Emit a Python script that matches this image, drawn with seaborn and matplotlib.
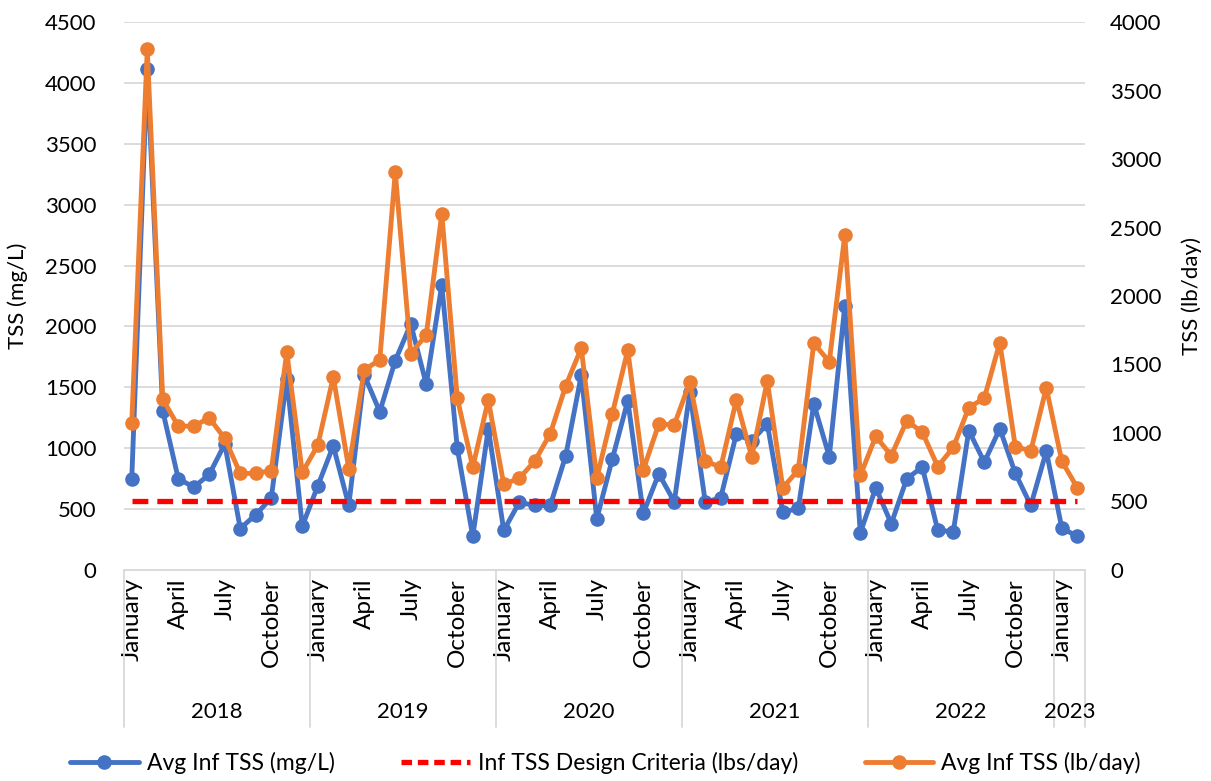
import numpy as np
import pandas as pd
import seaborn as sns
import matplotlib.pyplot as plt
import matplotlib.transforms as mtransforms
from matplotlib.lines import Line2D

sns.set_theme(style="white")
plt.rcParams['font.family'] = ['Lato', 'DejaVu Sans']

# Monthly record: January 2018 through February 2023
years = [2018] * 12 + [2019] * 12 + [2020] * 12 + [2021] * 12 + [2022] * 12 + [2023] * 2
month_names = ['January', 'February', 'March', 'April', 'May', 'June', 'July',
               'August', 'September', 'October', 'November', 'December']
months = (month_names * 6)[:62]

# Average influent TSS concentration (mg/L)
tss_mgl = [750, 4115, 1305, 750, 680, 785, 1035, 340, 455, 590,
           1570, 360, 690, 1020, 530, 1600, 1300, 1720, 2020, 1525,
           2340, 1000, 275, 1160, 325, 555, 530, 530, 940, 1600,
           420, 910, 1390, 465, 790, 560, 1460, 555, 595, 1115,
           1060, 1200, 475, 505, 1365, 930, 2170, 305, 675, 380,
           750, 845, 325, 315, 1145, 885, 1160, 795, 530, 975,
           345, 275]

# Average influent TSS load (lb/day)
tss_lbd = [1075, 3800, 1245, 1050, 1050, 1110, 960, 705, 705, 725,
           1590, 712, 910, 1410, 740, 1460, 1535, 2905, 1580, 1715,
           2600, 1255, 750, 1240, 625, 670, 795, 995, 1345, 1620,
           670, 1140, 1605, 730, 1065, 1060, 1370, 795, 750, 1240,
           825, 1380, 600, 730, 1655, 1520, 2445, 690, 975, 835,
           1090, 1005, 755, 895, 1185, 1255, 1660, 900, 870, 1330,
           795, 600]

# Influent TSS design criteria (lbs/day)
design_lbd = 500

df = pd.DataFrame({
    'idx': np.arange(len(months)),
    'year': years,
    'month': months,
    'mgl': tss_mgl,
    'lbd': tss_lbd,
    'design': [design_lbd] * len(months),
})

BLUE = '#4472C4'
ORANGE = '#ED7D31'
RED = '#FF0000'
GRID = '#D9D9D9'
TXT = '#000000'
FS = 16
LW = 3.5
MS = 10.5

fig = plt.figure(figsize=(12.11, 7.81), dpi=100)
ax = fig.add_axes([0.1024, 0.2702, 0.7936, 0.7016])
ax2 = ax.twinx()

sns.lineplot(data=df, x='idx', y='mgl', ax=ax, color=BLUE, linewidth=LW,
             marker='o', markersize=MS, markeredgewidth=0, zorder=3)
sns.lineplot(data=df, x='idx', y='design', ax=ax2, color=RED, linewidth=3.8,
             zorder=3).lines[0].set_dashes([3.0, 1.7])
sns.lineplot(data=df, x='idx', y='lbd', ax=ax2, color=ORANGE, linewidth=LW,
             marker='o', markersize=MS, markeredgewidth=0, zorder=4)

ax.set_xlim(-0.5, len(months) - 0.5)
ax.set_ylim(0, 4500)
ax.set_yticks(np.arange(0, 4501, 500))
ax2.set_ylim(0, 4000)
ax2.set_yticks(np.arange(0, 4001, 500))

ax.yaxis.grid(True, color=GRID, linewidth=1.3)
ax.set_axisbelow(True)
for a in (ax, ax2):
    for s in a.spines.values():
        s.set_visible(False)
ax.spines['bottom'].set_visible(True)
ax.spines['bottom'].set_color(GRID)
ax.spines['bottom'].set_linewidth(1.3)

ax.tick_params(axis='y', length=0, pad=20, labelsize=FS, labelcolor=TXT)
ax2.tick_params(axis='y', length=0, pad=18, labelsize=FS, labelcolor=TXT)

ax.set_ylabel('TSS (mg/L)', fontsize=FS, color=TXT, labelpad=12)
ax2.set_ylabel('TSS (lb/day)', fontsize=FS, color=TXT, rotation=90, labelpad=14)

# Quarterly month labels
qpos = [i for i, m in enumerate(months) if m in ('January', 'April', 'July', 'October')]
ax.set_xticks(qpos)
ax.set_xticklabels([months[i] for i in qpos], rotation=90, fontsize=17.5, color=TXT)
ax.tick_params(axis='x', length=0, pad=6)
ax.set_xlabel('')
ax2.set_xlabel('')

# Year groups beneath the month labels
trans = mtransforms.blended_transform_factory(ax.transData, ax.transAxes)
uniq_years = sorted(set(years))
bounds = []
for y in uniq_years:
    ids = [i for i, yy in enumerate(years) if yy == y]
    bounds.append((ids[0] - 0.5, ids[-1] + 0.5))
    ax.text((ids[0] + ids[-1]) / 2, -0.259, str(y), transform=trans,
            ha='center', va='center', fontsize=FS, color=TXT)
edges = sorted(set([b[0] for b in bounds] + [bounds[-1][1]]))
for e in edges:
    ax.add_line(Line2D([e, e], [0, -0.2865], transform=trans, color=GRID,
                       linewidth=1.3, clip_on=False))

handles = [
    Line2D([], [], color=BLUE, linewidth=LW, marker='o', markersize=MS, markeredgewidth=0),
    Line2D([], [], color=RED, linewidth=3.8, dashes=[2.0, 1.1]),
    Line2D([], [], color=ORANGE, linewidth=LW, marker='o', markersize=MS, markeredgewidth=0),
]
labels = ['Avg Inf TSS (mg/L)', 'Inf TSS Design Criteria (lbs/day)', 'Avg Inf TSS (lb/day)']
fig.legend(handles, labels, loc='lower center', bbox_to_anchor=(0.5, -0.018), ncol=3,
           frameon=False, fontsize=16.5, handlelength=3.0, handletextpad=0.35,
           columnspacing=2.9, labelcolor=TXT)

fig.savefig('out.png', dpi=100)
